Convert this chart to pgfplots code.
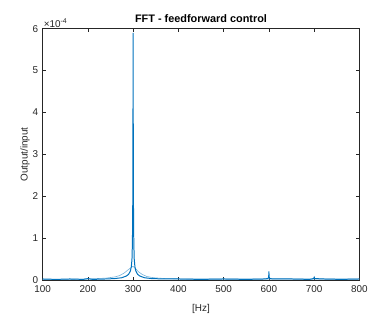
\documentclass[border=0pt]{standalone}
\usepackage{pgfplots}
\pgfplotsset{compat=1.18}
\usepackage{fontspec}
\setmainfont{Liberation Sans}
\definecolor{mlblue}{rgb}{0,0.447,0.741}
\definecolor{mlaxis}{rgb}{0.15,0.15,0.15}
\begin{document}
\begin{tikzpicture}[x=1pt,y=1pt]
\begin{axis}[
  scale only axis,
  width=320pt, height=254pt,
  xmin=100, xmax=800, ymin=0, ymax=6,
  xtick={100,200,...,800}, ytick={0,1,...,6},
  tick align=inside,
  axis line style={mlaxis, line width=0.5pt},
  tick style={mlaxis, line width=0.5pt},
  major tick length=3.5pt,
  font=\fontsize{10}{12}\selectfont,
  tick label style={text=mlaxis, font=\fontsize{10}{12}\selectfont},
  /pgf/number format/assume math mode=true,
  xticklabel style={yshift=-2pt},
  yticklabel style={xshift=-1pt},
  title={\textbf{FFT - feedforward control}},
  title style={font=\fontsize{11}{13}\selectfont, yshift=-3pt},
  xlabel={[Hz]}, ylabel={Output/input},
  xlabel style={text=mlaxis, yshift=-5pt},
  ylabel style={text=mlaxis, yshift=-4pt},
  clip mode=individual,
]
\addplot[mlblue!55, line width=0.6pt] coordinates {
 (100,0.02) (150,0.02) (200,0.03) (240,0.05) (260,0.08) (270,0.11) (280,0.17) (288,0.24) (294,0.29) (298,0.32) (300,0.33) (302,0.31) (306,0.27) (312,0.2) (320,0.14) (330,0.09) (345,0.06) (370,0.04) (420,0.03) (500,0.03) (600,0.03) (700,0.03) (800,0.03)
};
\addplot[mlblue, line width=1pt] coordinates {
 (100,0.03) (130,0.02) (160,0.03) (190,0.02) (200,0.04) (210,0.02) (240,0.03) (260,0.04) (275,0.06) (285,0.1) (290,0.14) (294,0.22) (296,0.32) (297.5,0.5) (298.5,0.9) (299.2,1.8) (299.7,3.8) (300,5.9) (300.3,3.8) (300.8,1.8) (301.5,0.9) (302.5,0.5) (304,0.32) (306,0.22) (310,0.14) (315,0.1) (325,0.06) (340,0.04) (370,0.03) (400,0.03) (450,0.02) (500,0.03) (550,0.02) (590,0.03) (598,0.04) (599.5,0.08) (600,0.21) (600.5,0.08) (602,0.04) (610,0.03) (650,0.03) (690,0.02) (699,0.04) (700,0.07) (701,0.04) (720,0.03) (760,0.02) (800,0.03)
};
\coordinate (O) at (rel axis cs:0,0);
\node[anchor=south west, inner sep=0pt, text=mlaxis, font=\fontsize{10}{11}\selectfont] at ([xshift=1pt,yshift=1pt]rel axis cs:0,1) {×10\textsuperscript{-4}};
\end{axis}
\path (O) ++(-43pt,-33pt) rectangle ++(373pt,316pt);
\end{tikzpicture}
\end{document}
